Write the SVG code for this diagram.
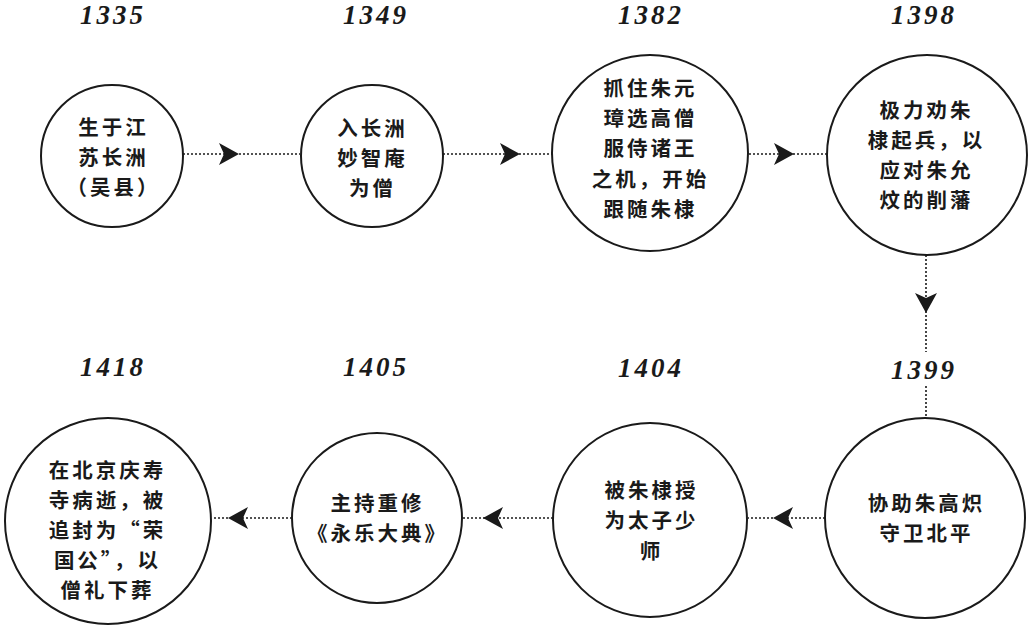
<svg xmlns="http://www.w3.org/2000/svg" width="1030" height="635" viewBox="0 0 1030 635">
<style>
.bg{fill:#ffffff}
.node circle{fill:#ffffff;stroke:#1a1a1a;stroke-width:2}
.year{font-family:"Liberation Serif","Times New Roman",serif;font-weight:bold;font-style:italic;font-size:27px;letter-spacing:3px;fill:#1a1a1a;text-anchor:middle}
.lbl{font-family:"Noto Sans CJK SC","Noto Sans CJK TC",sans-serif;font-weight:bold;font-size:20.5px;letter-spacing:3px;fill:#1a1a1a;text-anchor:middle}
.conn line{stroke:#1a1a1a;stroke-width:1.6;stroke-dasharray:2 2;fill:none}
.ah{fill:#1a1a1a}
</style>
<defs>
<path id="ah" d="M0,0 L-20,-11 L-15,0 L-20,11 Z"/>
</defs>
<rect class="bg" x="0" y="0" width="1030" height="635"/>

<g id="connectors" class="conn">
<line x1="183" y1="154" x2="300" y2="154"/>
<use href="#ah" class="ah" transform="translate(239,154)"/>
<line x1="443" y1="154" x2="552" y2="154"/>
<use href="#ah" class="ah" transform="translate(520,154)"/>
<line x1="749" y1="154" x2="827" y2="154"/>
<use href="#ah" class="ah" transform="translate(794,154)"/>
<line x1="926" y1="255" x2="926" y2="352"/>
<line x1="926" y1="386" x2="926" y2="418"/>
<use href="#ah" class="ah" transform="translate(926,313) rotate(90)"/>
<line x1="825" y1="518" x2="748" y2="518"/>
<use href="#ah" class="ah" transform="translate(773,518) rotate(180)"/>
<line x1="553" y1="518" x2="462" y2="518"/>
<use href="#ah" class="ah" transform="translate(483,518) rotate(180)"/>
<line x1="292" y1="518" x2="212" y2="518"/>
<use href="#ah" class="ah" transform="translate(228,518) rotate(180)"/>
</g>

<g id="n1335" class="node">
<text class="year" x="113" y="24">1335</text>
<circle cx="112" cy="156" r="71"/>
<text class="lbl"><tspan x="113.5" y="135">生于江</tspan><tspan x="113.5" y="165">苏长洲</tspan><tspan x="113.5" y="195">（吴县）</tspan></text>
</g>

<g id="n1349" class="node">
<text class="year" x="376" y="24">1349</text>
<circle cx="372" cy="156" r="71"/>
<text class="lbl"><tspan x="372.5" y="136">入长洲</tspan><tspan x="372.5" y="166">妙智庵</tspan><tspan x="372.5" y="196">为僧</tspan></text>
</g>

<g id="n1382" class="node">
<text class="year" x="651" y="24">1382</text>
<circle cx="650" cy="153" r="98"/>
<text class="lbl"><tspan x="650.5" y="96">抓住朱元</tspan><tspan x="650.5" y="126">璋选高僧</tspan><tspan x="650.5" y="156">服侍诸王</tspan><tspan x="650.5" y="187">之机，开始</tspan><tspan x="650.5" y="217">跟随朱棣</tspan></text>
</g>

<g id="n1398" class="node">
<text class="year" x="924" y="24">1398</text>
<circle cx="927" cy="155" r="100"/>
<text class="lbl"><tspan x="926.5" y="118">极力劝朱</tspan><tspan x="926.5" y="148">棣起兵，以</tspan><tspan x="926.5" y="178">应对朱允</tspan><tspan x="926.5" y="208">炆的削藩</tspan></text>
</g>

<g id="n1399" class="node">
<text class="year" x="924" y="379">1399</text>
<circle cx="925" cy="518" r="100"/>
<text class="lbl"><tspan x="926.5" y="511">协助朱高炽</tspan><tspan x="926.5" y="541">守卫北平</tspan></text>
</g>

<g id="n1404" class="node">
<text class="year" x="651" y="377">1404</text>
<circle cx="650" cy="520" r="97"/>
<text class="lbl"><tspan x="651.5" y="498">被朱棣授</tspan><tspan x="651.5" y="528">为太子少</tspan><tspan x="651.5" y="559">师</tspan></text>
</g>

<g id="n1405" class="node">
<text class="year" x="376" y="376">1405</text>
<circle cx="377" cy="518" r="85"/>
<text class="lbl"><tspan x="377.5" y="511">主持重修</tspan><tspan x="377.5" y="541">《永乐大典》</tspan></text>
</g>

<g id="n1418" class="node">
<text class="year" x="113" y="376">1418</text>
<circle cx="108" cy="521" r="103"/>
<text class="lbl"><tspan x="107.5" y="478">在北京庆寿</tspan><tspan x="107.5" y="508">寺病逝，被</tspan><tspan x="107.5" y="538">追封为“荣</tspan><tspan x="107.5" y="568">国公”，以</tspan><tspan x="107.5" y="598">僧礼下葬</tspan></text>
</g>
</svg>
